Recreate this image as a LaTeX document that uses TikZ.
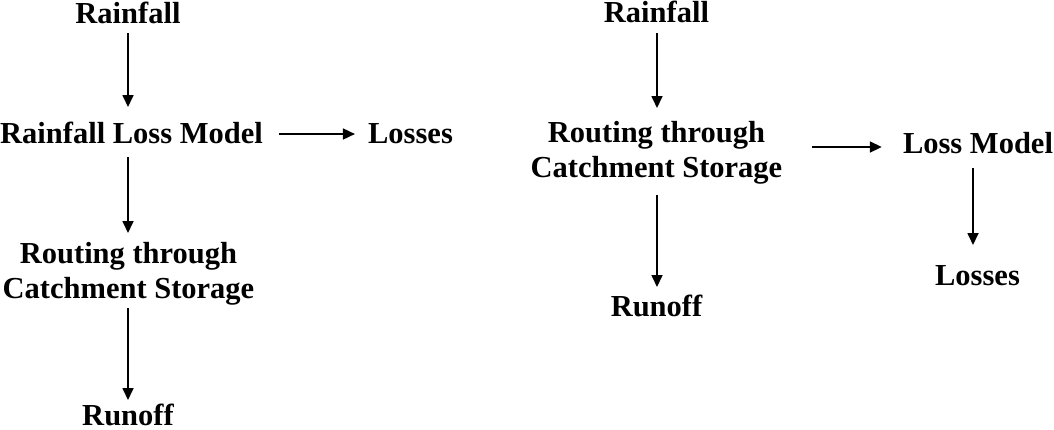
\documentclass[tikz,border=0pt]{standalone}
\usepackage{fontspec}
\setmainfont{Liberation Serif}
\usetikzlibrary{calc,arrows.meta}
\begin{document}
\begin{tikzpicture}[x=1pt,y=-1pt,
  lbl/.style={font=\bfseries\fontsize{30.5}{35}\selectfont, inner sep=0pt, anchor=base, align=center},
  arr/.style={-{Triangle[length=12pt,width=11pt]}, line width=1.7pt}]
\useasboundingbox (0,0) rectangle (1054,429);
% left diagram
\node[lbl] (r1) at (128,23) {Rainfall};
\node[lbl] (m1) at (131.5,143) {Rainfall Loss Model};
\node[lbl] (l1) at (410.5,143) {Losses};
\node[lbl] (c1) at (128.5,298) {Routing through\\Catchment Storage};
\node[lbl] (o1) at (128,425) {Runoff};
% right diagram
\node[lbl] (r2) at (656.5,22) {Rainfall};
\node[lbl] (c2) at (656.5,177) {Routing through\\Catchment Storage};
\node[lbl] (m2) at (978,153) {Loss Model};
\node[lbl] (l2) at (977.5,285) {Losses};
\node[lbl] (o2) at (656.5,316) {Runoff};
% left connectors
\draw[arr] ($(r1.base)+(0,10)$) -- ($(r1.base |- m1.base)+(0,-36)$);
\draw[arr] ($(m1.base -| m1.east)+(16,-9)$) -- ($(l1.base -| l1.west)+(-13,-9)$);
\draw[arr] ($(r1.base |- m1.base)+(0,14)$) -- ($(r1.base |- c1.base)+(0,-65)$);
\draw[arr] ($(r1.base |- c1.base)+(0,10)$) -- ($(r1.base |- o1.base)+(0,-25)$);
% right connectors
\draw[arr] ($(r2.base)+(0.5,11)$) -- ($(r2.base |- c2.base)+(0.5,-69)$);
\draw[arr] ($(c2.base -| c2.east)+(30,-30)$) -- ($(m2.base -| m2.west)+(-21,-6)$);
\draw[arr] ($(m2.base)+(-5,15)$) -- ($(m2.base |- l2.base)+(-5,-40)$);
\draw[arr] ($(r2.base |- c2.base)+(0.5,18)$) -- ($(r2.base |- o2.base)+(0.5,-29)$);
\end{tikzpicture}
\end{document}
